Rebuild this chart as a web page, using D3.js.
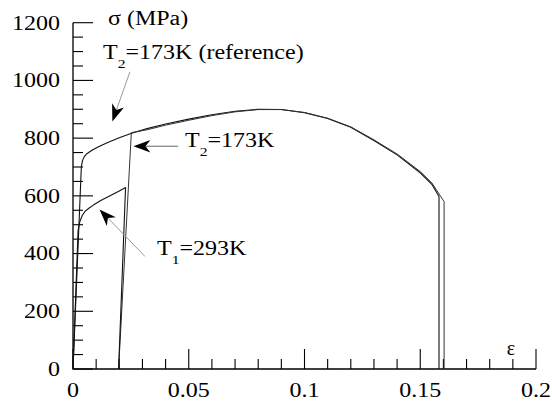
<!DOCTYPE html>
<html>
<head>
<meta charset="utf-8">
<script src="https://cdn.jsdelivr.net/npm/d3@7"></script>
<style>
  html, body { margin: 0; padding: 0; background: #fff; }
  svg { display: block; }
</style>
</head>
<body>
<svg id="chart" width="552" height="403"></svg>
<script>
// Stress–strain curves (strain, stress in MPa)
const strainRef = [0, 0.0036, 0.0041, 0.0048, 0.006, 0.008, 0.011, 0.015, 0.02, 0.025, 0.032, 0.04, 0.05, 0.06, 0.07, 0.08, 0.09, 0.1, 0.11, 0.12, 0.13, 0.14, 0.15, 0.155, 0.1581, 0.1581];
const stressRef = [0, 700, 722, 735, 746, 757, 770, 785, 801, 816, 833, 849, 866, 881, 893, 900, 899, 888, 868, 838, 792, 742, 680, 640, 598, 0];

const strainT2 = [0.0197, 0.0252, 0.032, 0.04, 0.05, 0.06, 0.07, 0.08, 0.09, 0.1, 0.11, 0.12, 0.13, 0.14, 0.15, 0.155, 0.1581, 0.1603, 0.1603];
const stressT2 = [0, 819, 829, 845, 862, 878, 891, 899, 899, 889, 869, 839, 794, 745, 684, 645, 607, 580, 0];

const strainT1 = [0, 0.0022, 0.003, 0.004, 0.0052, 0.007, 0.0088, 0.012, 0.016, 0.02, 0.0227, 0.0197];
const stressT1 = [0, 480, 512, 532, 546, 558, 568, 584, 600, 617, 629, 0];

// Axis ticks
const yTickValues = [0, 200, 400, 600, 800, 1000, 1200];
const xTickValues = [0, 0.05, 0.1, 0.15, 0.2];
const xTickLabels = ["0", "0.05", "0.1", "0.15", "0.2"];

const SERIF = "'Liberation Serif', 'Times New Roman', serif";
const svg = d3.select("#chart");
const x = d3.scaleLinear().domain([0, 0.2]).range([73, 536]);
const y = d3.scaleLinear().domain([0, 1200]).range([369, 22.7]);

const FONT = 20;
const STRETCH = 1.2;
// widen glyphs horizontally to the serif look of the plot
function stretch(sel) {
  sel.each(function () {
    const w = this.getComputedTextLength();
    d3.select(this).attr("textLength", w * STRETCH).attr("lengthAdjust", "spacingAndGlyphs");
  });
}

// ---- Tick marks (pointing into the plot) ----
const yMinor = d3.range(0, 1201, 50).filter(v => v % 200 !== 0);
const xMinor = d3.range(0, 21).map(i => i / 100).filter(v => Math.round(v * 100) % 5 !== 0);

const tickG = svg.append("g").attr("stroke", "#000").attr("stroke-width", 1.1);
yMinor.forEach(v => tickG.append("line").attr("x1", x(0)).attr("x2", x(0) + 10).attr("y1", y(v)).attr("y2", y(v)));
yTickValues.forEach(v => tickG.append("line").attr("x1", x(0)).attr("x2", x(0) + 20).attr("y1", y(v)).attr("y2", y(v)));
xMinor.forEach(v => tickG.append("line").attr("x1", x(v)).attr("x2", x(v)).attr("y1", y(0)).attr("y2", y(0) - 10));
xTickValues.forEach(v => tickG.append("line").attr("x1", x(v)).attr("x2", x(v)).attr("y1", y(0)).attr("y2", y(0) - 20));

const domain = d3.path();
domain.moveTo(x(0), y(1200)); domain.lineTo(x(0), y(0)); domain.lineTo(x(0.2), y(0));
svg.append("path")
  .attr("d", domain.toString())
  .attr("fill", "none")
  .attr("stroke", "#000")
  .attr("stroke-width", 1.3);

// ---- Tick labels ----
svg.append("g").selectAll("text").data(yTickValues).join("text")
  .attr("x", x(0) - 13).attr("y", d => y(d)).attr("dy", "0.34em")
  .attr("text-anchor", "end").attr("font-size", FONT).style("font-family", SERIF)
  .text(d3.format("d"))
  .call(stretch);

svg.append("g").selectAll("text").data(xTickValues).join("text")
  .attr("x", d => x(d)).attr("y", y(0) + 28)
  .attr("text-anchor", "middle").attr("font-size", FONT).style("font-family", SERIF)
  .text((d, i) => xTickLabels[i])
  .call(stretch);

// ---- Curves ----
const line = d3.line().x(d => x(d[0])).y(d => y(d[1]));
function drawCurve(strain, stress, color, width) {
  svg.append("path")
    .datum(d3.zip(strain, stress))
    .attr("d", line)
    .attr("fill", "none")
    .attr("stroke", color)
    .attr("stroke-width", width)
    .attr("stroke-linejoin", "round");
}
drawCurve(strainRef, stressRef, "#111", 1.1);
drawCurve(strainT2, stressT2, "#333", 1.0);
drawCurve(strainT1, stressT1, "#111", 1.1);

// ---- Annotations ----
function arrow(tail, tip, shaftColor) {
  const x0 = x(tail[0]), y0 = y(tail[1]), x1 = x(tip[0]), y1 = y(tip[1]);
  const a = Math.atan2(y1 - y0, x1 - x0);
  const L = 17, W = 6.3, N = 12;
  const ux = Math.cos(a), uy = Math.sin(a), px = -uy, py = ux;
  const bx = x1 - ux * L, by = y1 - uy * L;
  svg.append("line")
    .attr("x1", x0).attr("y1", y0)
    .attr("x2", x1 - ux * N).attr("y2", y1 - uy * N)
    .attr("stroke", shaftColor).attr("stroke-width", 1);
  const pts = [
    [x1, y1],
    [bx + px * W, by + py * W],
    [x1 - ux * N, y1 - uy * N],
    [bx - px * W, by - py * W]
  ];
  svg.append("path").attr("d", "M" + pts.join("L") + "Z").attr("fill", "#000");
}

function label(strain, stress, parts) {
  const t = svg.append("text")
    .attr("x", x(strain)).attr("y", y(stress))
    .attr("font-size", FONT).style("font-family", SERIF);
  parts.forEach(p => {
    if (p.sub) {
      t.append("tspan").attr("font-size", 13).attr("dy", 9).text(p.sub);
    } else {
      t.append("tspan").attr("dy", t.selectAll("tspan").size() ? -9 : 0).text(p.text);
    }
  });
  t.call(stretch);
  return t;
}

label(0.0151, 1162, [{ text: "σ (MPa)" }]);
label(0.0130, 1044, [{ text: "T" }, { sub: "2" }, { text: "=173K (reference)" }]);
label(0.0484, 739, [{ text: "T" }, { sub: "2" }, { text: "=173K" }]);
label(0.0363, 364, [{ text: "T" }, { sub: "1" }, { text: "=293K" }]);

svg.append("text")
  .attr("x", x(0.1892)).attr("y", y(49))
  .attr("text-anchor", "middle")
  .attr("font-size", FONT).style("font-family", SERIF)
  .text("ε");

arrow([0.0246, 1030], [0.0170, 858], "#999");
arrow([0.0454, 772], [0.0261, 772], "#666");
arrow([0.0311, 390], [0.01145, 553], "#999");
</script>
</body>
</html>
